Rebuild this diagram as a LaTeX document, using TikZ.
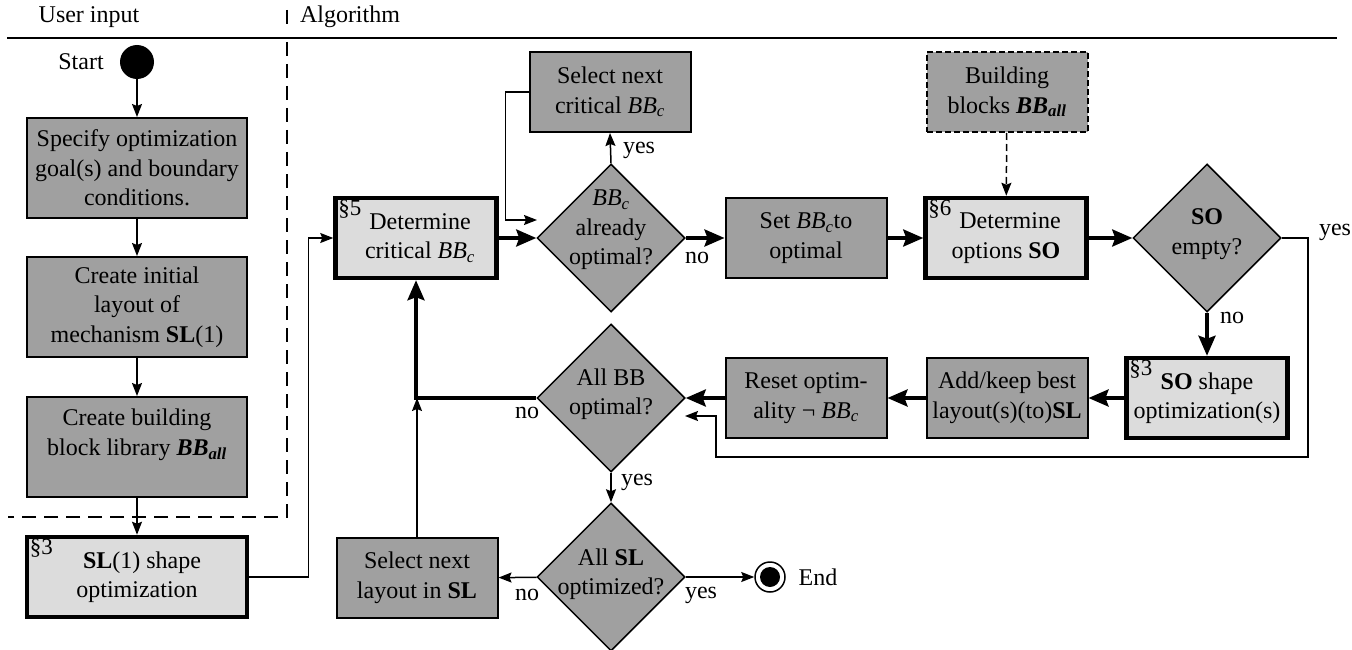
\documentclass[tikz,border=0pt]{standalone}
\usepackage{fontspec}
\setmainfont{LiberationSerif}[Extension=.ttf, UprightFont=*-Regular, BoldFont=*-Bold, ItalicFont=*-Italic, BoldItalicFont=*-BoldItalic]
\usetikzlibrary{shapes.geometric,arrows.meta}
\definecolor{boxgray}{HTML}{A0A0A0}
\definecolor{boxlight}{HTML}{DCDCDC}
\newcommand{\BBc}{\textit{BB}\textsubscript{\textit{c}}}
\newcommand{\BBall}{\textbf{\textit{BB}}\textsubscript{\textbf{\textit{all}}}}
\begin{document}
\begin{tikzpicture}[x=1pt,y=-1pt,
  font=\fontsize{24}{29.5}\selectfont,
  graybox/.style={draw, line width=2pt, fill=boxgray, align=center, minimum width=161pt, minimum height=80pt, inner sep=0pt},
  lightbox/.style={graybox, fill=boxlight, line width=4.5pt},
  leftbox/.style={graybox, minimum width=220pt, minimum height=100pt},
  decision/.style={diamond, draw, line width=1.5pt, fill=boxgray, minimum width=148pt, minimum height=148pt, inner sep=0pt},
  sec/.style={font=\fontsize{23}{23}\selectfont, inner sep=0pt, anchor=north west, xshift=5pt, yshift=-4pt},
  flowthin/.style={line width=1.5pt, -{Stealth[length=13pt,width=10pt,inset=2pt]}},
  flowthick/.style={line width=3.5pt, -{Stealth[length=20pt,width=17pt,inset=3pt]}},
  answer/.style={inner sep=0pt}]
\useasboundingbox (0,0) rectangle (1352,650);
% lanes
\node[answer] (userhd) at (89,17) {User input};
\node[answer] (alghd) at (350,17) {Algorithm};
\draw[line width=1.5pt] (287,10) -- (287,24);
\draw[line width=2pt] (7,38) -- (1337,38);
\draw[line width=2.2pt, dash pattern=on 14pt off 8pt] (287,42) -- (287,517) -- (8,517);
% user input
\node[circle, fill, minimum size=34pt, inner sep=0pt] (start) at (137,62) {};
\node[answer] (starttxt) at (81,62) {Start};
\node[leftbox] (spec) at (137,168) {Specify optimization\\goal(s) and boundary\\conditions.};
\node[leftbox] (init) at (137,307) {Create initial\\layout of\\mechanism \textbf{SL}(1)};
\node[leftbox] (lib) at (137,447) {Create building\\block library \BBall\\~};
\node[lightbox, minimum width=220pt, label={[sec]north west:\S3}] (slopt) at (137,577) {\hspace*{10pt}\textbf{SL}(1) shape\\optimization};
% algorithm
\node[lightbox, label={[sec]north west:\S5}] (detbb) at (416,238) {\hspace*{8pt}Determine\\\hspace*{8pt}critical \BBc};
\node[decision, label={[align=center, yshift=8pt]center:\BBc\\already\\optimal?}] (optdia) at (611,238) {};
\node[graybox] (selc) at (610,92) {Select next\\critical \BBc};
\node[graybox] (setopt) at (806,238) {Set \BBc to\\optimal};
\node[lightbox, label={[sec]north west:\S6}] (detso) at (1006,238) {\hspace*{8pt}Determine\\options \textbf{SO}};
\node[graybox, dashed, dash pattern=on 6pt off 3pt] (bblk) at (1007,92) {Building\\blocks \BBall};
\node[decision, label={[align=center, yshift=4pt]center:\textbf{SO}\\empty?}] (sodia) at (1207,238) {};
\node[lightbox, label={[sec]north west:\S3}] (soopt) at (1207,398) {\textbf{SO} shape\\optimization(s)};
\node[graybox] (addkeep) at (1007,398) {Add/keep best\\layout(s)(to)\textbf{SL}};
\node[graybox] (reset) at (806,398) {Reset optim-\\ality ¬ \BBc};
\node[decision, label={[align=center, yshift=4pt]center:All BB\\optimal?}] (bbdia) at (611,398) {};
\node[decision, label={[align=center, yshift=3pt]center:All \textbf{SL}\\optimized?}] (sldia) at (611,577) {};
\node[graybox] (selnext) at (417,578) {Select next\\layout in \textbf{SL}};
\node[circle, draw, line width=1.5pt, minimum size=30pt, inner sep=0pt] (endo) at (770,577) {};
\node[circle, fill, minimum size=20pt, inner sep=0pt] (endi) at (endo) {};
\node[answer] (endtxt) at (818,577) {End};
% answers
\node[answer] (a1) at (639,150) {yes};
\node[answer] (a2) at (697,258) {no};
\node[answer] (a3) at (1335,232) {yes};
\node[answer] (a4) at (1232,318) {no};
\node[answer] (a5) at (527,413) {no};
\node[answer] (a6) at (637,482) {yes};
\node[answer] (a7) at (527,595) {no};
\node[answer] (a8) at (701,595) {yes};
\coordinate (loopin) at (537,220);
\coordinate (backin) at (685,416);
% connectors
\draw[flowthin] (start) -- (spec);
\draw[flowthin] (spec) -- (init);
\draw[flowthin] (init) -- (lib);
\draw[flowthin] (lib) -- (slopt);
\draw[flowthin] (slopt.east) -- ++(59,0) |- (detbb.west);
\draw[flowthick] (detbb) -- (optdia);
\draw[flowthin] (optdia.north) -- (selc.south);
\draw[flowthin] (selc.west) -- ++(-23,0) |- (loopin);
\draw[flowthick] (optdia) -- (setopt);
\draw[flowthick] (setopt) -- (detso);
\draw[flowthin, dashed, dash pattern=on 7pt off 4pt] (bblk) -- (detso);
\draw[flowthick] (detso) -- (sodia);
\draw[flowthick] (sodia) -- (soopt);
\draw[flowthin] (sodia.east) -- ++(26,0) |- (716,457) -- (716,416) -- (backin);
\draw[flowthick] (soopt) -- (addkeep);
\draw[flowthick] (addkeep) -- (reset);
\draw[flowthick] (reset) -- (bbdia);
\draw[flowthick] (bbdia.west) -| (detbb.south);
\draw[flowthin] (bbdia) -- (sldia);
\draw[flowthin] (sldia) -- (selnext);
\draw[flowthin] (selnext.north) -- (selnext.north |- bbdia.west);
\draw[flowthin] (sldia) -- (endo);
\end{tikzpicture}
\end{document}
